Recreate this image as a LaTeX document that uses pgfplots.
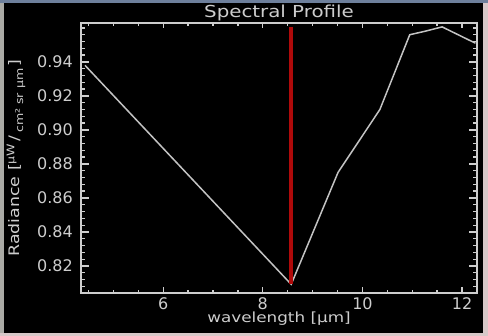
\documentclass[border=0pt]{standalone}
\usepackage{pgfplots}
\pgfplotsset{compat=1.18}
\usepackage{fontspec}
\setmainfont[FakeStretch=1.2]{DejaVu Sans}
\newfontfamily\tickfont{DejaVu Sans}
\definecolor{fg}{RGB}{205,205,205}
\definecolor{dataline}{RGB}{195,195,195}
\definecolor{redline}{RGB}{175,10,10}
\definecolor{topstrip}{RGB}{110,128,156}
\definecolor{leftstrip}{RGB}{170,170,165}
\definecolor{rightstrip}{RGB}{215,200,200}
\begin{document}
\begin{tikzpicture}
\useasboundingbox (0,0) rectangle (488pt,336pt);
\fill[black] (0,0) rectangle (488pt,336pt);
\fill[topstrip] (0,333pt) rectangle (488pt,336pt);
\fill[leftstrip] (0,0) rectangle (4pt,333pt);
\fill[rightstrip] (483pt,0) rectangle (488pt,333pt);
\fill[rightstrip] (0,0) rectangle (488pt,3pt);
\begin{axis}[
  at={(81pt,43pt)}, anchor=south west,
  scale only axis, width=396pt, height=270pt,
  xmin=4.35, xmax=12.3, ymin=0.8041, ymax=0.9629,
  axis line style={fg, line width=1.5pt},
  tick style={fg, line width=1.3pt},
  tick align=inside,
  xtick={6,8,10,12},
  minor xtick={4.5,5,5.5,6.5,7,7.5,8.5,9,9.5,10.5,11,11.5},
  ytick={0.82,0.84,0.86,0.88,0.90,0.92,0.94},
  minor ytick={0.808,0.812,0.816,0.824,0.828,0.832,0.836,0.844,0.848,0.852,0.856,0.864,0.868,0.872,0.876,0.884,0.888,0.892,0.896,0.904,0.908,0.912,0.916,0.924,0.928,0.932,0.936,0.944,0.948,0.952,0.956,0.96},
  x tick style={/pgfplots/major tick length=5.5pt,/pgfplots/minor tick length=2.8pt},
  y tick style={/pgfplots/major tick length=8pt,/pgfplots/minor tick length=4pt},
  /pgf/number format/assume math mode=true,
  yticklabel style={/pgf/number format/fixed,/pgf/number format/precision=2,/pgf/number format/fixed zerofill,
     anchor=east, inner sep=0pt, xshift=-8pt, font=\tickfont\fontsize{16}{18}\selectfont, text=fg},
  xticklabel style={anchor=north, inner sep=0pt, yshift=-4pt, font=\tickfont\fontsize{16}{18}\selectfont, text=fg},
  title={Spectral Profile},
  every axis title shift=0pt,
  title style={at={(axis description cs:0.5,1)}, anchor=base, yshift=5pt, inner sep=0pt, font=\fontsize{16.5}{18}\selectfont, text=fg},
  xlabel={wavelength [µm]},
  xlabel style={at={(axis description cs:0.5,0)}, anchor=base, yshift=-30pt, inner sep=0pt, font=\fontsize{14}{16}\selectfont, text=fg},
  ylabel={Radiance [\raisebox{0.7ex}{\fontsize{10.5}{11}\selectfont µW}\,/\,\raisebox{-0.4ex}{\fontsize{10.5}{11}\selectfont cm² sr µm}\,]},
  ylabel style={at={(axis description cs:0,0.5)}, anchor=center, yshift=65pt, inner sep=0pt, font=\fontsize{14.5}{16}\selectfont, text=fg},
]
\addplot[dataline, line width=1.5pt] coordinates {
(4.43,0.938) (8.57,0.8092) (9.51,0.875) (10.35,0.912) (10.95,0.956) (11.25,0.958) (11.6,0.9606) (12.27,0.951)
};
\addplot[redline, line width=3.5pt] coordinates {(8.565,0.8092) (8.565,0.9606)};
\end{axis}
\end{tikzpicture}
\end{document}
